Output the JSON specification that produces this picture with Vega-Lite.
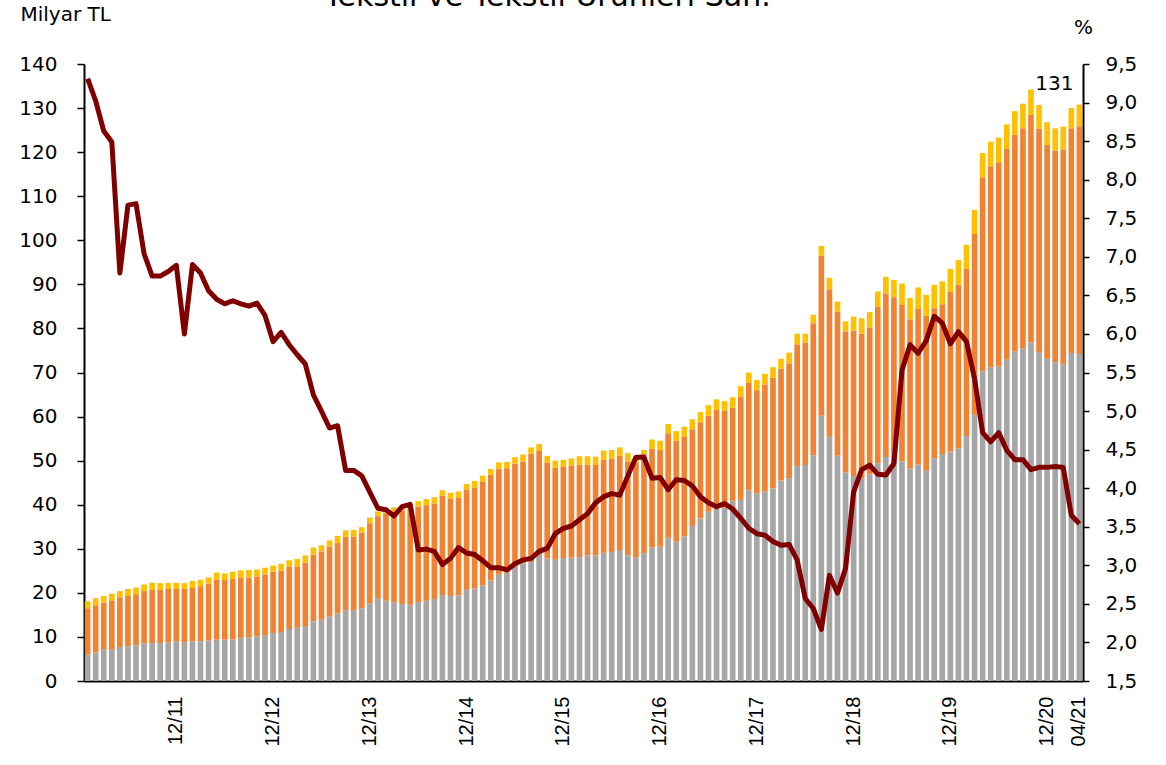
{
  "$schema": "https://vega.github.io/schema/vega-lite/v6.json",
  "width": 999,
  "height": 617,
  "autosize": {"type": "none"},
  "padding": {"left": 84, "top": 64, "right": 83, "bottom": 84},
  "background": "white",
  "config": {"view": {"stroke": null}, "font": "DejaVu Sans"},
  "title": {"text": "Tekstil ve Tekstil Ürünleri San.", "fontSize": 30, "fontWeight": "normal", "font": "DejaVu Sans", "color": "black", "dx": -36, "dy": 38, "offset": 0, "baseline": "bottom"},
  "data": {"values": [
    {"m":"01/11","a":6.0,"b":10.5,"c":1.6,"r":9.31},
    {"m":"02/11","a":6.5,"b":10.7,"c":1.6,"r":9.02},
    {"m":"03/11","a":7.1,"b":10.7,"c":1.5,"r":8.63},
    {"m":"04/11","a":7.1,"b":11.2,"c":1.5,"r":8.49},
    {"m":"05/11","a":7.7,"b":11.3,"c":1.4,"r":6.79},
    {"m":"06/11","a":7.9,"b":11.4,"c":1.6,"r":7.67},
    {"m":"07/11","a":8.1,"b":11.6,"c":1.5,"r":7.69},
    {"m":"08/11","a":8.5,"b":11.9,"c":1.5,"r":7.04},
    {"m":"09/11","a":8.6,"b":12.2,"c":1.5,"r":6.75},
    {"m":"10/11","a":8.6,"b":12.1,"c":1.5,"r":6.75},
    {"m":"11/11","a":8.8,"b":12.2,"c":1.3,"r":6.81},
    {"m":"12/11","a":9.0,"b":11.9,"c":1.4,"r":6.89},
    {"m":"01/12","a":8.8,"b":12.1,"c":1.3,"r":6.00},
    {"m":"02/12","a":9.0,"b":12.1,"c":1.6,"r":6.90},
    {"m":"03/12","a":9.0,"b":12.5,"c":1.5,"r":6.79},
    {"m":"04/12","a":9.2,"b":12.9,"c":1.4,"r":6.56},
    {"m":"05/12","a":9.4,"b":13.6,"c":1.6,"r":6.45},
    {"m":"06/12","a":9.4,"b":13.5,"c":1.5,"r":6.39},
    {"m":"07/12","a":9.4,"b":13.8,"c":1.6,"r":6.43},
    {"m":"08/12","a":9.8,"b":13.7,"c":1.6,"r":6.39},
    {"m":"09/12","a":9.9,"b":13.6,"c":1.7,"r":6.36},
    {"m":"10/12","a":10.1,"b":13.6,"c":1.6,"r":6.40},
    {"m":"11/12","a":10.4,"b":13.8,"c":1.5,"r":6.24},
    {"m":"12/12","a":10.9,"b":13.9,"c":1.4,"r":5.90},
    {"m":"01/13","a":11.1,"b":13.9,"c":1.6,"r":6.02},
    {"m":"02/13","a":11.8,"b":14.1,"c":1.5,"r":5.86},
    {"m":"03/13","a":12.1,"b":13.9,"c":1.7,"r":5.73},
    {"m":"04/13","a":12.3,"b":14.6,"c":1.6,"r":5.61},
    {"m":"05/13","a":13.5,"b":15.2,"c":1.6,"r":5.21},
    {"m":"06/13","a":13.9,"b":15.5,"c":1.4,"r":5.00},
    {"m":"07/13","a":14.6,"b":15.9,"c":1.4,"r":4.78},
    {"m":"08/13","a":15.3,"b":16.0,"c":1.6,"r":4.81},
    {"m":"09/13","a":16.0,"b":16.7,"c":1.5,"r":4.23},
    {"m":"10/13","a":16.1,"b":16.7,"c":1.5,"r":4.23},
    {"m":"11/13","a":16.5,"b":17.2,"c":1.2,"r":4.16},
    {"m":"12/13","a":17.6,"b":18.2,"c":1.3,"r":3.95},
    {"m":"01/14","a":18.8,"b":18.6,"c":1.1,"r":3.74},
    {"m":"02/14","a":18.2,"b":19.7,"c":1.1,"r":3.72},
    {"m":"03/14","a":17.8,"b":20.6,"c":1.0,"r":3.64},
    {"m":"04/14","a":17.5,"b":21.2,"c":0.9,"r":3.76},
    {"m":"05/14","a":17.3,"b":21.9,"c":1.0,"r":3.79},
    {"m":"06/14","a":17.9,"b":21.7,"c":1.2,"r":3.20},
    {"m":"07/14","a":18.2,"b":21.7,"c":1.4,"r":3.21},
    {"m":"08/14","a":18.6,"b":21.7,"c":1.4,"r":3.18},
    {"m":"09/14","a":19.5,"b":22.6,"c":1.2,"r":3.01},
    {"m":"10/14","a":19.3,"b":22.1,"c":1.3,"r":3.09},
    {"m":"11/14","a":19.4,"b":22.2,"c":1.4,"r":3.23},
    {"m":"12/14","a":20.7,"b":22.7,"c":1.3,"r":3.16},
    {"m":"01/15","a":21.0,"b":22.9,"c":1.5,"r":3.14},
    {"m":"02/15","a":21.7,"b":23.5,"c":1.4,"r":3.06},
    {"m":"03/15","a":22.8,"b":24.0,"c":1.3,"r":2.97},
    {"m":"04/15","a":24.1,"b":24.1,"c":1.4,"r":2.97},
    {"m":"05/15","a":24.6,"b":23.7,"c":1.4,"r":2.94},
    {"m":"06/15","a":25.9,"b":23.4,"c":1.5,"r":3.02},
    {"m":"07/15","a":26.7,"b":23.1,"c":1.6,"r":3.07},
    {"m":"08/15","a":27.0,"b":24.6,"c":1.4,"r":3.09},
    {"m":"09/15","a":28.4,"b":23.8,"c":1.6,"r":3.18},
    {"m":"10/15","a":27.8,"b":21.7,"c":1.6,"r":3.22},
    {"m":"11/15","a":27.5,"b":20.9,"c":1.6,"r":3.41},
    {"m":"12/15","a":27.9,"b":20.7,"c":1.6,"r":3.48},
    {"m":"01/16","a":28.0,"b":20.9,"c":1.6,"r":3.51},
    {"m":"02/16","a":28.1,"b":21.0,"c":1.9,"r":3.59},
    {"m":"03/16","a":28.5,"b":20.6,"c":1.9,"r":3.67},
    {"m":"04/16","a":28.5,"b":20.5,"c":1.9,"r":3.81},
    {"m":"05/16","a":29.1,"b":21.1,"c":2.1,"r":3.89},
    {"m":"06/16","a":29.3,"b":21.1,"c":2.0,"r":3.93},
    {"m":"07/16","a":29.7,"b":21.4,"c":1.9,"r":3.91},
    {"m":"08/16","a":28.5,"b":21.3,"c":1.9,"r":4.16},
    {"m":"09/16","a":28.0,"b":21.6,"c":1.4,"r":4.40},
    {"m":"10/16","a":29.0,"b":22.5,"c":0.9,"r":4.40},
    {"m":"11/16","a":30.3,"b":22.4,"c":2.1,"r":4.13},
    {"m":"12/16","a":30.5,"b":21.9,"c":2.1,"r":4.14},
    {"m":"01/17","a":32.5,"b":23.7,"c":2.1,"r":3.98},
    {"m":"02/17","a":31.6,"b":22.9,"c":2.2,"r":4.11},
    {"m":"03/17","a":32.8,"b":22.6,"c":2.3,"r":4.10},
    {"m":"04/17","a":35.2,"b":21.9,"c":2.3,"r":4.03},
    {"m":"05/17","a":36.9,"b":21.8,"c":2.3,"r":3.89},
    {"m":"06/17","a":38.4,"b":21.8,"c":2.4,"r":3.81},
    {"m":"07/17","a":39.2,"b":22.3,"c":2.4,"r":3.76},
    {"m":"08/17","a":39.4,"b":21.9,"c":2.2,"r":3.80},
    {"m":"09/17","a":40.9,"b":21.1,"c":2.4,"r":3.73},
    {"m":"10/17","a":41.1,"b":23.4,"c":2.4,"r":3.61},
    {"m":"11/17","a":43.3,"b":24.4,"c":2.3,"r":3.48},
    {"m":"12/17","a":42.6,"b":23.4,"c":2.3,"r":3.41},
    {"m":"01/18","a":43.0,"b":24.3,"c":2.4,"r":3.39},
    {"m":"02/18","a":43.7,"b":25.1,"c":2.4,"r":3.31},
    {"m":"03/18","a":45.5,"b":25.4,"c":2.2,"r":3.26},
    {"m":"04/18","a":46.0,"b":26.1,"c":2.4,"r":3.27},
    {"m":"05/18","a":48.8,"b":27.6,"c":2.4,"r":3.07},
    {"m":"06/18","a":49.0,"b":27.8,"c":2.0,"r":2.57},
    {"m":"07/18","a":51.2,"b":30.0,"c":1.9,"r":2.44},
    {"m":"08/18","a":60.2,"b":36.3,"c":2.2,"r":2.17},
    {"m":"09/18","a":55.4,"b":33.5,"c":2.6,"r":2.87},
    {"m":"10/18","a":51.1,"b":32.7,"c":2.3,"r":2.64},
    {"m":"11/18","a":47.3,"b":32.0,"c":2.3,"r":2.96},
    {"m":"12/18","a":46.5,"b":33.0,"c":3.2,"r":3.95},
    {"m":"01/19","a":46.0,"b":32.8,"c":3.5,"r":4.24},
    {"m":"02/19","a":46.9,"b":33.3,"c":3.5,"r":4.30},
    {"m":"03/19","a":49.4,"b":35.5,"c":3.5,"r":4.18},
    {"m":"04/19","a":50.8,"b":37.1,"c":3.8,"r":4.17},
    {"m":"05/19","a":52.0,"b":35.1,"c":3.9,"r":4.32},
    {"m":"06/19","a":49.8,"b":35.5,"c":4.9,"r":5.53},
    {"m":"07/19","a":48.2,"b":33.9,"c":4.8,"r":5.86},
    {"m":"08/19","a":49.1,"b":35.3,"c":4.9,"r":5.75},
    {"m":"09/19","a":47.7,"b":35.1,"c":4.8,"r":5.91},
    {"m":"10/19","a":50.5,"b":34.1,"c":5.3,"r":6.23},
    {"m":"11/19","a":51.5,"b":34.0,"c":5.2,"r":6.14},
    {"m":"12/19","a":52.1,"b":36.2,"c":5.2,"r":5.87},
    {"m":"01/20","a":52.8,"b":37.1,"c":5.6,"r":6.03},
    {"m":"02/20","a":55.6,"b":37.9,"c":5.5,"r":5.90},
    {"m":"03/20","a":60.4,"b":41.0,"c":5.5,"r":5.42},
    {"m":"04/20","a":70.3,"b":44.0,"c":5.5,"r":4.72},
    {"m":"05/20","a":71.2,"b":45.6,"c":5.6,"r":4.60},
    {"m":"06/20","a":71.4,"b":46.3,"c":5.6,"r":4.72},
    {"m":"07/20","a":73.0,"b":47.7,"c":5.6,"r":4.49},
    {"m":"08/20","a":74.8,"b":49.1,"c":5.4,"r":4.37},
    {"m":"09/20","a":75.5,"b":49.9,"c":5.6,"r":4.37},
    {"m":"10/20","a":76.8,"b":51.6,"c":5.8,"r":4.24},
    {"m":"11/20","a":74.5,"b":50.8,"c":5.4,"r":4.27},
    {"m":"12/20","a":73.1,"b":48.5,"c":5.2,"r":4.27},
    {"m":"01/21","a":72.3,"b":48.0,"c":5.1,"r":4.28},
    {"m":"02/21","a":71.9,"b":48.6,"c":5.3,"r":4.27},
    {"m":"03/21","a":74.4,"b":51.0,"c":4.6,"r":3.65},
    {"m":"04/21","a":74.2,"b":51.7,"c":4.9,"r":3.54}
  ]},
  "layer": [
    {
      "transform": [{"fold": ["a", "b", "c"], "as": ["seg", "val"]}],
      "mark": {"type": "bar"},
      "encoding": {
        "x": {
          "field": "m", "type": "nominal", "sort": null,
          "scale": {"paddingInner": 0.3, "paddingOuter": 0.1},
          "axis": {
            "title": null,
            "values": ["12/11","12/12","12/13","12/14","12/15","12/16","12/17","12/18","12/19","12/20","04/21"],
            "labelAngle": -90, "labelAlign": "right", "labelBaseline": "middle",
            "labelFont": "Liberation Sans", "labelFontSize": 20, "labelColor": "black",
            "labelPadding": 15, "ticks": false, "domainColor": "black", "domainWidth": 2
          }
        },
        "y": {
          "field": "val", "type": "quantitative", "stack": "zero",
          "scale": {"domain": [0, 140], "nice": false},
          "axis": {
            "values": [0,10,20,30,40,50,60,70,80,90,100,110,120,130,140],
            "grid": false, "labelFontSize": 20, "labelColor": "black", "labelFont": "DejaVu Sans",
            "tickColor": "black", "tickSize": 7, "tickWidth": 1.5, "domainColor": "black", "domainWidth": 2,
            "labelPadding": 20,
            "title": "Milyar TL", "titleAngle": 0, "titleAlign": "left", "titleBaseline": "top",
            "titleX": -64, "titleY": -60, "titleFontSize": 20, "titleFontWeight": "normal",
            "titleFont": "DejaVu Sans", "titleColor": "black"
          }
        },
        "color": {
          "field": "seg", "type": "nominal",
          "scale": {"domain": ["a", "b", "c"], "range": ["#A6A6A6", "#F08233", "#FFC000"]},
          "legend": null
        },
        "order": {"field": "seg", "sort": "ascending"}
      }
    },
    {
      "mark": {"type": "line", "color": "#800000", "strokeWidth": 5, "strokeJoin": "round"},
      "encoding": {
        "x": {"field": "m", "type": "nominal", "sort": null},
        "y": {
          "field": "r", "type": "quantitative",
          "scale": {"domain": [1.5, 9.5], "nice": false, "zero": false},
          "axis": {
            "orient": "right",
            "values": [1.5,2,2.5,3,3.5,4,4.5,5,5.5,6,6.5,7,7.5,8,8.5,9,9.5],
            "labelExpr": "replace(format(datum.value, '.1f'), '.', ',')",
            "grid": false, "labelFontSize": 20, "labelColor": "black", "labelFont": "DejaVu Sans",
            "tickColor": "black", "tickSize": 6, "tickWidth": 1.5, "domainColor": "black", "domainWidth": 2,
            "labelPadding": 16,
            "title": "%", "titleAngle": 0, "titleAlign": "center", "titleBaseline": "top",
            "titleX": 0, "titleY": -47, "titleFontSize": 20, "titleFontWeight": "normal",
            "titleFont": "DejaVu Sans", "titleColor": "black"
          }
        }
      }
    },
    {
      "data": {"values": [{"m": "04/21", "v": 130.8, "t": "131"}]},
      "mark": {"type": "text", "align": "right", "baseline": "bottom", "dx": -6, "dy": -11, "fontSize": 20, "font": "DejaVu Sans", "color": "black"},
      "encoding": {
        "x": {"field": "m", "type": "nominal", "sort": null},
        "y": {"field": "v", "type": "quantitative", "scale": {"domain": [0, 140], "nice": false}, "axis": null},
        "text": {"field": "t", "type": "nominal"}
      }
    }
  ],
  "resolve": {"scale": {"y": "independent"}}
}
